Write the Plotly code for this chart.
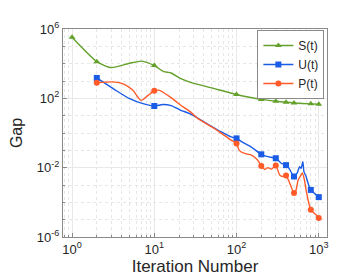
import plotly.graph_objects as go

# ---- data ----
s_iter = [1, 2, 3, 5, 7, 10, 13, 16, 21, 27, 54, 100, 138, 200, 300, 400, 500, 800, 1000]
s_gap = [3.3e5, 1.3e4, 5.9e3, 1.05e4, 1.4e4, 7.8e3, 3.5e3, 2.9e3, 1.35e3, 8.7e2, 3.6e2,
         1.66e2, 1.2e2, 87, 68, 59, 54, 48, 46]

u_iter = [2, 3.3, 5, 7.3, 10, 12.7, 16, 21, 27, 34, 45, 65, 86, 100, 115, 150, 200, 240,
          300, 350, 400, 435, 500, 545, 585, 610, 640, 660, 700, 775, 800, 1000]
u_gap = [1.5e3, 316, 95, 49, 36, 44, 38, 20.4, 13.2, 7.1, 3.2, 1.17, 0.60, 0.49, 0.32,
         0.16, 0.059, 0.043, 0.035, 0.018, 0.014, 0.0091, 0.0031, 0.0048, 0.0115, 0.0091,
         0.022, 0.0059, 0.0031, 6.6e-4, 5.2e-4, 2.0e-4]

p_iter = [2, 3.15, 4.2, 5.5, 6.9, 8.4, 10, 11.6, 14.6, 17.7, 21, 27, 34, 54, 86, 100, 108,
          125, 150, 180, 200, 220, 240, 265, 300, 335, 366, 400, 435, 500, 530, 560, 610,
          630, 670, 700, 800, 930, 1000]
p_gap = [790, 890, 690, 290, 76, 148, 275, 290, 148, 76, 40, 17.8, 6.8, 1.8, 0.39, 0.25,
         0.10, 0.066, 0.054, 0.028, 0.0126, 0.0079, 0.010, 0.0083, 0.0132, 0.0038, 0.0031,
         0.0035, 0.0016, 3.4e-4, 5.2e-4, 0.0019, 0.0038, 0.0050, 0.0019, 5.2e-4, 3.7e-5,
         1.9e-5, 1.26e-5]

s_marks = [1, 2, 10, 100, 200, 300, 400, 500, 800, 1000]
up_marks = [2, 10, 100, 200, 300, 400, 500, 800, 1000]

x_tick_vals = [1, 10, 100, 1000]
x_tick_text = ["10<sup>0</sup>", "10<sup>1</sup>", "10<sup>2</sup>", "10<sup>3</sup>"]
y_tick_vals = [1e-6, 1e-2, 1e2, 1e6]
y_tick_text = ["10<sup>-6</sup>", "10<sup>-2</sup>", "10<sup>2</sup>", "10<sup>6</sup>"]

series = [
    ("S(t)", s_iter, s_gap, s_marks, "#63A12B", "triangle-up"),
    ("U(t)", u_iter, u_gap, up_marks, "#1A5CE6", "square"),
    ("P(t)", p_iter, p_gap, up_marks, "#FF5A28", "circle"),
]

FONT = "Liberation Sans, Arial, sans-serif"

fig = go.Figure()
for name, xs, ys, marks, color, sym in series:
    lookup = dict(zip(xs, ys))
    fig.add_trace(go.Scatter(x=xs, y=ys, mode="lines", showlegend=False,
                             line=dict(color=color, width=1.4, shape="spline", smoothing=0.6),
                             hoverinfo="skip"))
    fig.add_trace(go.Scatter(x=marks, y=[lookup[m] for m in marks], mode="markers",
                             showlegend=False,
                             marker=dict(color=color, symbol=sym, size=6)))
    fig.add_trace(go.Scatter(x=[None], y=[None], mode="lines+markers", name=name,
                             line=dict(color=color, width=1.4),
                             marker=dict(color=color, symbol=sym, size=6)))

axis_common = dict(
    type="log", showline=True, mirror=True, linecolor="#8a8a8a", linewidth=1,
    ticks="inside", ticklen=4, tickcolor="#8a8a8a",
    showgrid=True, gridcolor="#e8e8e8", gridwidth=1, zeroline=False,
    automargin=False,
    tickfont=dict(family=FONT, size=13, color="#262626"),
)

fig.update_xaxes(**axis_common, range=[-0.11, 3.10], tickmode="array",
                 tickvals=x_tick_vals, ticktext=x_tick_text,
                 minor=dict(dtick="D1", ticks="inside", ticklen=2, tickcolor="#8a8a8a",
                            showgrid=True, gridcolor="#e6e6e6", griddash="dot"),
                 title=dict(text="Iteration Number", standoff=3,
                            font=dict(family=FONT, size=17, color="#262626")))
fig.update_yaxes(**axis_common, range=[-6, 6], tickmode="array",
                 tickvals=y_tick_vals, ticktext=y_tick_text,
                 minor=dict(dtick=1, ticks="inside", ticklen=2, tickcolor="#8a8a8a",
                            showgrid=True, gridcolor="#e6e6e6", griddash="dot"),
                 title=dict(text="Gap", standoff=18,
                            font=dict(family=FONT, size=16, color="#262626")))

fig.update_layout(
    width=353, height=277,
    margin=dict(l=55, r=34, t=21, b=48),
    paper_bgcolor="white", plot_bgcolor="white",
    showlegend=True,
    legend=dict(x=0.99, y=0.995, xanchor="right", yanchor="top",
                bgcolor="white", bordercolor="#8a8a8a", borderwidth=1,
                font=dict(family=FONT, size=12, color="#262626"),
                itemwidth=30, tracegroupgap=0),
)

fig.write_html("out.html")
